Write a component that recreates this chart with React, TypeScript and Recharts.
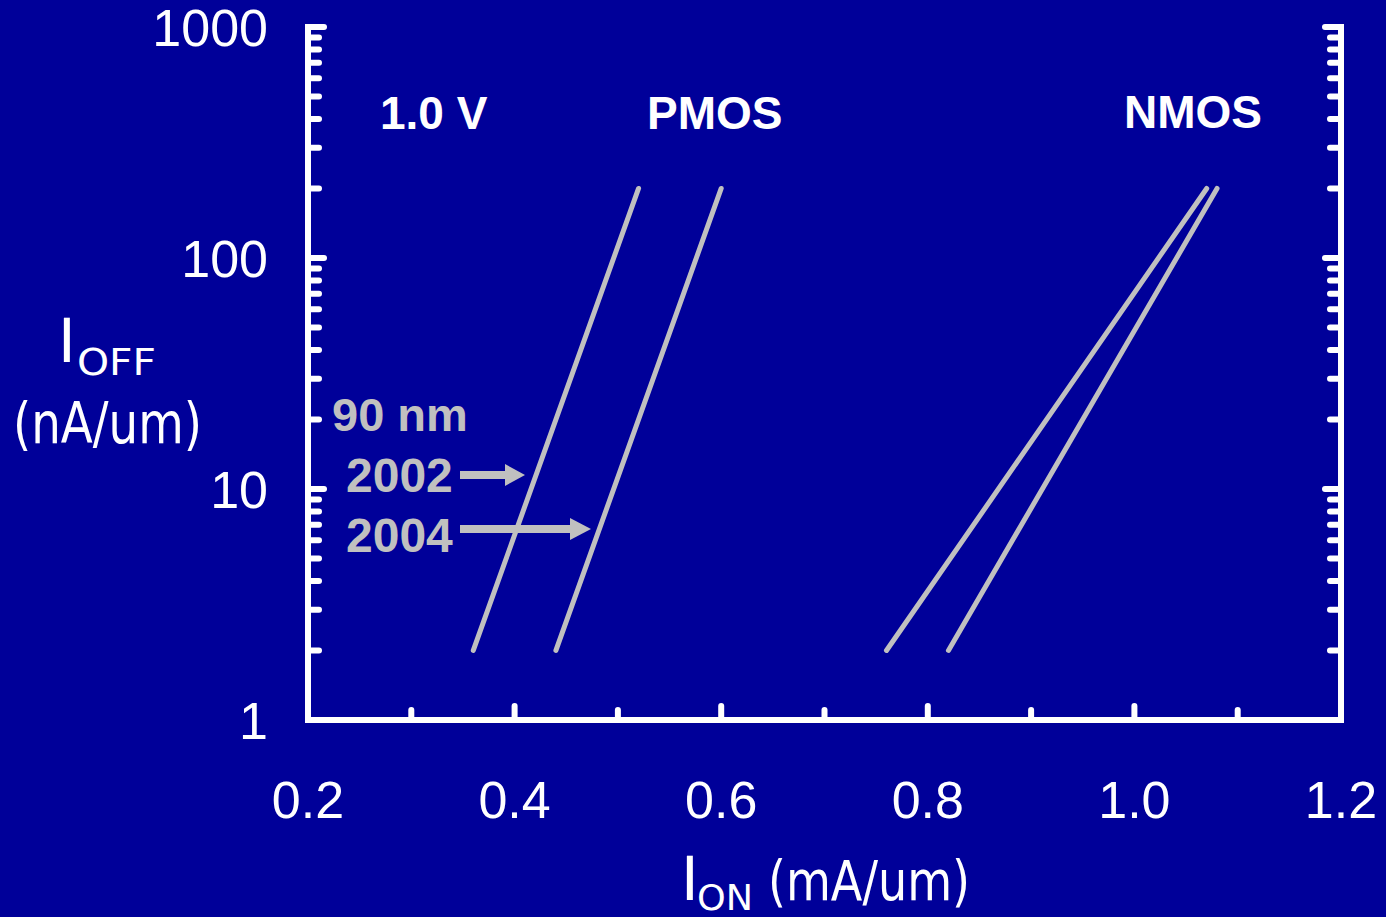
import { LineChart, Line, XAxis, YAxis } from "recharts";

// I_ON (mA/um) and I_OFF (nA/um) end points of each fitted line
const ionPmos2002 = [0.36, 0.52];
const ioffPmos2002 = [2, 200];
const ionPmos2004 = [0.44, 0.6];
const ioffPmos2004 = [2, 200];
const ionNmos2002 = [0.76, 1.07];
const ioffNmos2002 = [2, 200];
const ionNmos2004 = [0.82, 1.08];
const ioffNmos2004 = [2, 200];

const xTicks = [0.2, 0.3, 0.4, 0.5, 0.6, 0.7, 0.8, 0.9, 1.0, 1.1, 1.2];
const xLabels = ["0.2", "0.4", "0.6", "0.8", "1.0", "1.2"];
const yTicks = [
  1, 2, 3, 4, 5, 6, 7, 8, 9,
  10, 20, 30, 40, 50, 60, 70, 80, 90,
  100, 200, 300, 400, 500, 600, 700, 800, 900,
  1000,
];
const yDecades = [1, 10, 100, 1000];

const W = 1386;
const H = 917;
const PL = 308;
const PR = 1341;
const PT = 27;
const PB = 720;

const BG = "#000099";
const GRAY = "#c0c0c0";
const LABEL_FONT = "'Liberation Sans', Arial, sans-serif";
const TITLE_FONT = "'DejaVu Sans', Tahoma, sans-serif";

const toData = (xs: number[], ys: number[]) => xs.map((x, i) => ({ x, y: ys[i] }));

const series = [
  toData(ionPmos2002, ioffPmos2002),
  toData(ionPmos2004, ioffPmos2004),
  toData(ionNmos2002, ioffNmos2002),
  toData(ionNmos2004, ioffNmos2004),
];

const isDecade = (v: number) => yDecades.includes(v);

const LeftTick = (props: any) => {
  const { y, payload } = props;
  const v = payload.value;
  const len = isDecade(v) ? 16 : 11;
  return (
    <g>
      <line x1={PL} x2={PL + len} y1={y} y2={y} stroke="#fff" strokeWidth={6} strokeLinecap="round" />
      {isDecade(v) && (
        <text x={268} y={y} dy="0.36em" textAnchor="end" fill="#fff" fontSize={52} fontFamily={LABEL_FONT}>
          {v}
        </text>
      )}
    </g>
  );
};

const RightTick = (props: any) => {
  const { y, payload } = props;
  const len = isDecade(payload.value) ? 16 : 11;
  return (
    <line x1={PR} x2={PR - len} y1={y} y2={y} stroke="#fff" strokeWidth={6} strokeLinecap="round" />
  );
};

const BottomTick = (props: any) => {
  const { x, index } = props;
  const major = index % 2 === 0;
  return (
    <g>
      <line x1={x} x2={x} y1={PB} y2={PB - (major ? 14 : 10)} stroke="#fff" strokeWidth={6} strokeLinecap="round" />
      {major && (
        <text x={x} y={818} textAnchor="middle" fill="#fff" fontSize={52} fontFamily={LABEL_FONT}>
          {xLabels[index / 2]}
        </text>
      )}
    </g>
  );
};

const frame = { stroke: "#fff", strokeWidth: 6, strokeLinecap: "square" as const };

export default function App() {
  return (
    <div style={{ position: "absolute", left: 0, top: 0, width: W, height: H, background: BG, overflow: "hidden" }}>
      <LineChart width={W} height={H} margin={{ top: PT, right: 0, bottom: 0, left: 0 }}>
        <XAxis
          xAxisId="b"
          type="number"
          dataKey="x"
          domain={[0.2, 1.2]}
          ticks={xTicks}
          interval={0}
          height={H - PB}
          axisLine={frame}
          tickLine={false}
          tick={<BottomTick />}
          allowDataOverflow
        />
        <XAxis
          xAxisId="t"
          orientation="top"
          type="number"
          dataKey="x"
          domain={[0.2, 1.2]}
          height={0}
          axisLine={frame}
          tickLine={false}
          tick={false}
        />
        <YAxis
          yAxisId="l"
          type="number"
          dataKey="y"
          scale="log"
          domain={[1, 1000]}
          ticks={yTicks}
          interval={0}
          width={PL}
          axisLine={frame}
          tickLine={false}
          tick={<LeftTick />}
          allowDataOverflow
        />
        <YAxis
          yAxisId="r"
          orientation="right"
          type="number"
          dataKey="y"
          scale="log"
          domain={[1, 1000]}
          ticks={yTicks}
          interval={0}
          width={W - PR}
          axisLine={frame}
          tickLine={false}
          tick={<RightTick />}
          allowDataOverflow
        />
        {series.map((d, i) => (
          <Line
            key={i}
            data={d}
            dataKey="y"
            xAxisId="b"
            yAxisId="l"
            type="linear"
            stroke={GRAY}
            strokeWidth={5}
            strokeLinecap="round"
            dot={false}
            activeDot={false}
            isAnimationActive={false}
          />
        ))}
      </LineChart>

      <svg width={W} height={H} style={{ position: "absolute", left: 0, top: 0, pointerEvents: "none" }}>
        {/* axis titles */}
        <text x={58} y={362} fill="#fff" fontSize={60} fontFamily={TITLE_FONT}>I</text>
        <text x={77} y={375} fill="#fff" fontSize={38} fontFamily={TITLE_FONT} textLength={79} lengthAdjust="spacingAndGlyphs">OFF</text>
        <text x={13} y={443} fill="#fff" fontSize={57} fontFamily={TITLE_FONT} textLength={189} lengthAdjust="spacingAndGlyphs">(nA/um)</text>
        <text x={681} y={900} fill="#fff" fontSize={60} fontFamily={TITLE_FONT}>I</text>
        <text x={697} y={910} fill="#fff" fontSize={36} fontFamily={TITLE_FONT} textLength={56} lengthAdjust="spacingAndGlyphs">ON</text>
        <text x={768} y={900} fill="#fff" fontSize={56} fontFamily={TITLE_FONT} textLength={202} lengthAdjust="spacingAndGlyphs">(mA/um)</text>

        {/* annotations */}
        <g fontFamily={LABEL_FONT} fontWeight="bold">
          <text x={380} y={129} fill="#fff" fontSize={46}>1.0 V</text>
          <text x={647} y={129} fill="#fff" fontSize={46}>PMOS</text>
          <text x={1124} y={128} fill="#fff" fontSize={46}>NMOS</text>
          <text x={332} y={431} fill={GRAY} fontSize={47}>90 nm</text>
          <text x={346} y={492} fill={GRAY} fontSize={48}>2002</text>
          <text x={346} y={552} fill={GRAY} fontSize={48}>2004</text>
        </g>
        <line x1={460} x2={508} y1={475} y2={475} stroke={GRAY} strokeWidth={8} />
        <polygon points="505,464 525,475 505,486" fill={GRAY} />
        <line x1={460} x2={573} y1={529} y2={529} stroke={GRAY} strokeWidth={8} />
        <polygon points="570,518 591,529 570,540" fill={GRAY} />
      </svg>
    </div>
  );
}
